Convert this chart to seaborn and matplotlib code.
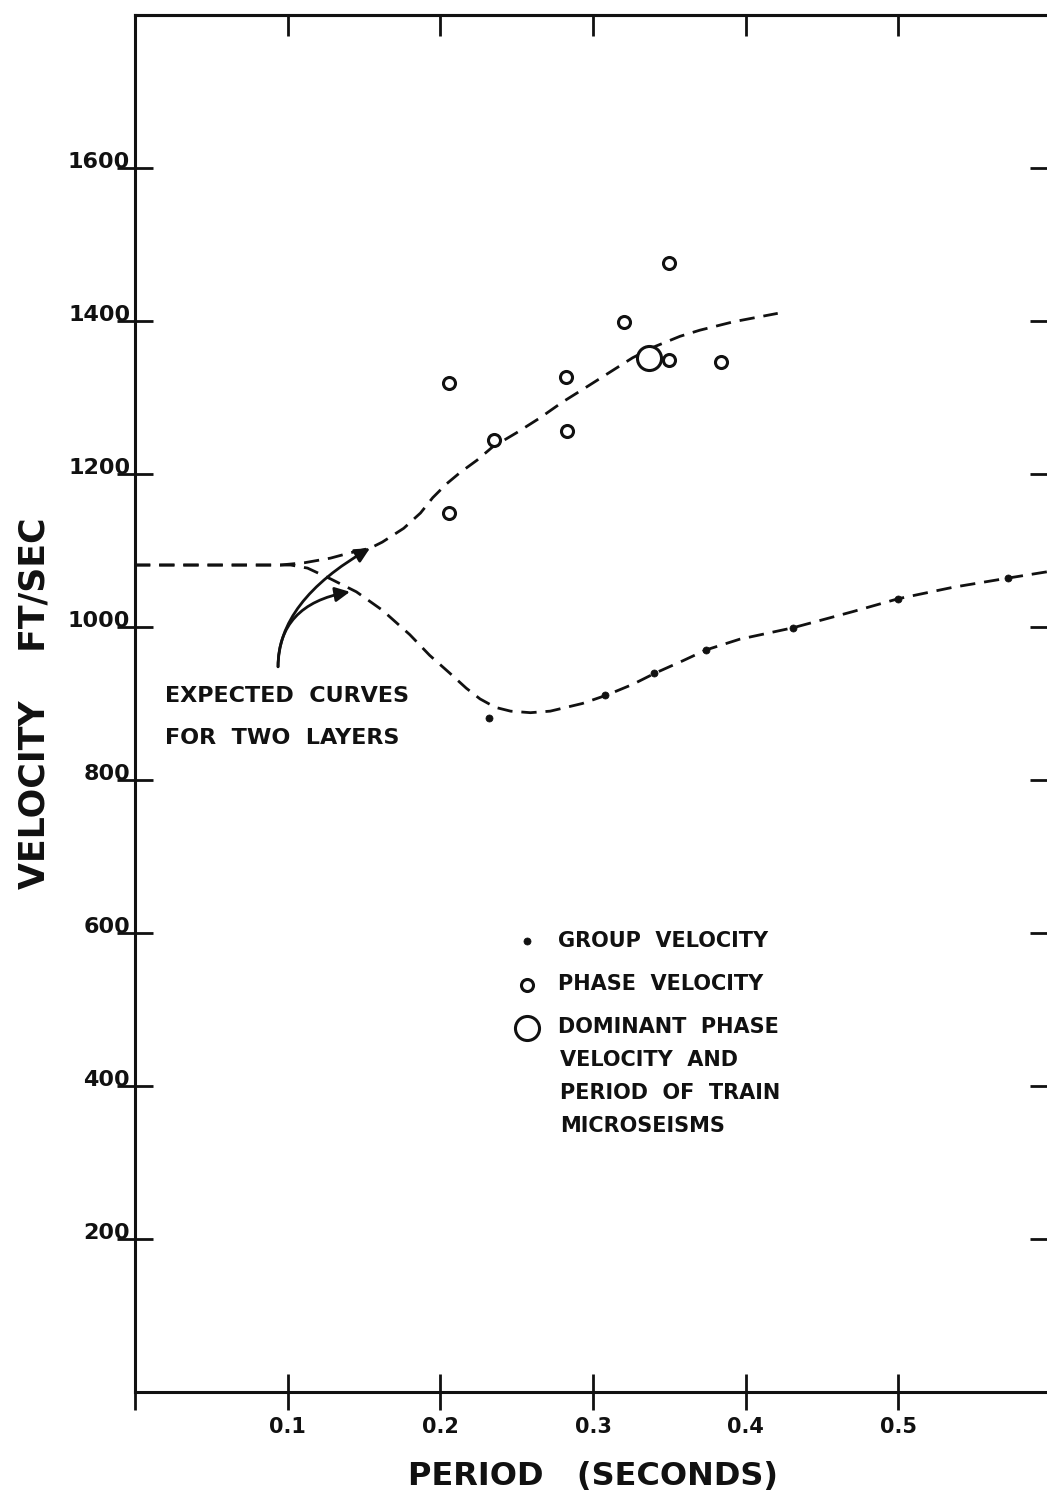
import numpy as np
import pandas as pd
import matplotlib
matplotlib.use("Agg")
import matplotlib.pyplot as plt
import seaborn as sns

# ---- data ----
phase_period = [0.206, 0.206, 0.235, 0.282, 0.283, 0.320, 0.350, 0.350, 0.384]
phase_vel = [1319, 1149, 1244, 1327, 1256, 1399, 1476, 1349, 1346]

dominant_period = [0.337]
dominant_vel = [1352]

group_period = [0.232, 0.308, 0.340, 0.374, 0.431, 0.500, 0.572]
group_vel = [881, 911, 940, 970, 999, 1037, 1064]

# expected curve for phase velocity
phase_curve_period = [0.0, 0.030, 0.062, 0.095, 0.111, 0.128, 0.141, 0.154, 0.162,
                      0.176, 0.187, 0.195, 0.204, 0.213, 0.224, 0.234, 0.250,
                      0.265, 0.280, 0.296, 0.311, 0.326, 0.341, 0.357, 0.370,
                      0.392, 0.421]
phase_curve_vel = [1081, 1081, 1081, 1081, 1084, 1090, 1097, 1103, 1111,
                   1129, 1149, 1169, 1187, 1202, 1218, 1235, 1254,
                   1273, 1294, 1314, 1333, 1352, 1367, 1380, 1388,
                   1399, 1410]

# expected curve for group velocity
group_curve_period = [0.0, 0.050, 0.102, 0.113, 0.128, 0.145, 0.162, 0.180, 0.193,
                      0.206, 0.217, 0.226, 0.236, 0.246, 0.259, 0.272, 0.293,
                      0.309, 0.326, 0.341, 0.359, 0.374, 0.396, 0.431, 0.470,
                      0.500, 0.536, 0.572, 0.600]
group_curve_vel = [1081, 1081, 1081, 1077, 1063, 1046, 1022, 990, 963,
                   940, 920, 906, 895, 890, 888, 890, 900,
                   911, 925, 940, 956, 970, 984, 999, 1020,
                   1037, 1052, 1064, 1073]

xticks = [0.0, 0.1, 0.2, 0.3, 0.4, 0.5]
xticklabels = ["", "0.1", "0.2", "0.3", "0.4", "0.5"]
yticks = [200, 400, 600, 800, 1000, 1200, 1400, 1600]
yticklabels = ["200", "400", "600", "800", "1000", "1200", "1400", "1600"]

legend_labels = ["GROUP  VELOCITY", "PHASE  VELOCITY", "DOMINANT  PHASE"]
legend_cont = ["VELOCITY  AND", "PERIOD  OF  TRAIN", "MICROSEISMS"]
note_text = "EXPECTED  CURVES\nFOR  TWO  LAYERS"

# ---- styling ----
sns.set_style("ticks")
plt.rcParams["font.family"] = ["DejaVu Sans"]
plt.rcParams["font.weight"] = "bold"

W, H = 1047, 1492
fig = plt.figure(figsize=(W / 100, H / 100), dpi=100)
ax = fig.add_axes([135 / W, 100 / H, 916 / W, 1377 / H])

ink = "#111111"
dash = (5.5, 3.2)

sns.lineplot(x=phase_curve_period, y=phase_curve_vel, ax=ax, sort=False,
             estimator=None, color=ink, linewidth=2.0, dashes=False, zorder=2)
sns.lineplot(x=group_curve_period, y=group_curve_vel, ax=ax, sort=False,
             estimator=None, color=ink, linewidth=2.0, dashes=False, zorder=2)
for ln in ax.lines:
    ln.set_dashes(dash)

sns.scatterplot(x=group_period, y=group_vel, ax=ax, marker="o", s=26,
                color=ink, edgecolor=ink, linewidth=0.5, zorder=4,
                label=legend_labels[0])
sns.scatterplot(x=phase_period, y=phase_vel, ax=ax, marker="o", s=75,
                color="white", edgecolor=ink, linewidth=2.2, zorder=4,
                label=legend_labels[1])
sns.scatterplot(x=dominant_period, y=dominant_vel, ax=ax, marker="o", s=300,
                color="white", edgecolor=ink, linewidth=2.2, zorder=5,
                label=legend_labels[2])

ax.set_xlim(0, 0.6)
ax.set_ylim(0, 1800)

ax.set_xticks(xticks)
ax.set_xticklabels(xticklabels)
ax.set_yticks(yticks)
ax.set_yticklabels(yticklabels)

for sp in ax.spines.values():
    sp.set_linewidth(2.2)
    sp.set_color(ink)
    sp.set_visible(True)

ax.tick_params(axis="both", direction="inout", length=26, width=2, colors=ink,
               top=False, right=False)
ax.tick_params(axis="y", pad=-9.5, labelsize=16)
ax.tick_params(axis="x", pad=5, labelsize=15)
for lab in ax.get_yticklabels():
    lab.set_verticalalignment("baseline")

secx = ax.secondary_xaxis("top")
secx.set_xticks(xticks[1:])
secx.set_xticklabels([])
secx.tick_params(direction="in", length=15, width=2, colors=ink)
secx.spines["top"].set_linewidth(2.2)

secy = ax.secondary_yaxis("right")
secy.set_yticks(yticks)
secy.set_yticklabels([])
secy.tick_params(direction="in", length=15, width=2, colors=ink)

ax.set_xlabel("PERIOD   (SECONDS)", fontsize=23, fontweight="bold", labelpad=17, color=ink)
ax.set_ylabel("VELOCITY    FT/SEC", fontsize=25, fontweight="bold", labelpad=12, color=ink)

# legend
handles, labels = ax.get_legend_handles_labels()
leg = ax.legend(handles, labels, loc="upper left", bbox_to_anchor=(0.4166, 0.335),
                frameon=False, handlelength=1.0, handletextpad=1.0, borderpad=0,
                borderaxespad=0, labelspacing=1.12,
                prop={"weight": "bold", "size": 15})
for t in leg.get_texts():
    t.set_color(ink)

# note + arrows
ax.text(0.0196, 923, note_text, ha="left", va="top", fontsize=16,
        fontweight="bold", linespacing=2.37, color=ink)
tail = (0.0937, 948)
for tip, angB in [((0.1539, 1103), 30), ((0.1408, 1046), 10)]:
    ax.annotate("", xy=tip, xytext=tail,
                arrowprops=dict(arrowstyle="-|>", color=ink, lw=2,
                                mutation_scale=22, shrinkA=0, shrinkB=0,
                                connectionstyle=f"angle3,angleA=90,angleB={angB}"))

# continuation lines of the third legend entry, placed under its label
fig.canvas.draw()
bb = leg.get_texts()[2].get_window_extent()
inv = ax.transAxes.inverted()
x0, yc = inv.transform(((bb.x0 + 2), (bb.y0 + bb.y1) / 2))
step = 33.0 / (ax.get_window_extent().height)
for i, line in enumerate(legend_cont):
    ax.text(x0, yc - (i + 1) * step, line, transform=ax.transAxes,
            ha="left", va="center", fontsize=15, fontweight="bold", color=ink)

fig.savefig("out.png", dpi=100, facecolor="white")
